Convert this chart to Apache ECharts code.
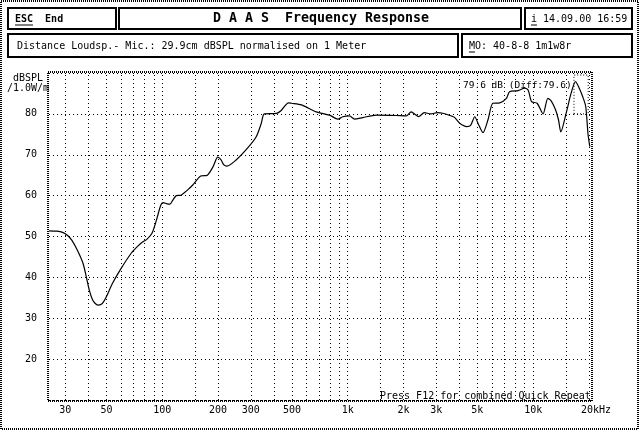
<!DOCTYPE html>
<html>
<head>
<meta charset="utf-8">
<script src="https://cdn.jsdelivr.net/npm/echarts@6/dist/echarts.min.js"></script>
<style>
html,body{margin:0;padding:0;background:#fff;}
#c{width:640px;height:431px;}
</style>
</head>
<body>
<div id="c"></div>
<script>
// Frequency response curve (Hz, dBSPL)
const freqs = [24.5, 27, 29, 31, 32.5, 34.8, 37.4, 38.9, 40.4, 42, 43.5, 45, 46.9, 48.5, 50, 54, 60, 68, 74, 78, 82.5, 88, 93, 98, 101, 106, 110, 114, 119, 126, 137, 146, 161, 175, 188, 199, 207, 215, 223, 250, 288, 321, 342, 355, 412, 439, 479, 497, 563, 676, 797, 885, 940, 1021, 1088, 1206, 1425, 1827, 2068, 2197, 2335, 2413, 2586, 2806, 3045, 3300, 3513, 3750, 4017, 4380, 4600, 4845, 5050, 5360, 5700, 6060, 6600, 7170, 7460, 8300, 9000, 9400, 9800, 10500, 11300, 12000, 12500, 13200, 13700, 14085, 15120, 16000, 16900, 17600, 18500, 19200, 19760, 20200];
const levels = [51.4, 51.3, 51.0, 50.2, 49.1, 46.7, 43.4, 40.2, 36.9, 34.6, 33.6, 33.2, 33.4, 34.2, 35.3, 38.6, 42.2, 45.9, 47.7, 48.6, 49.3, 50.8, 54.0, 57.6, 58.3, 58.0, 57.9, 58.9, 60.0, 60.1, 61.4, 62.6, 64.8, 65.0, 67.1, 69.4, 68.8, 67.5, 67.2, 68.7, 71.6, 74.4, 77.7, 80.0, 80.1, 80.9, 82.7, 82.6, 82.2, 80.5, 79.7, 78.7, 79.3, 79.5, 78.7, 79.1, 79.7, 79.6, 79.5, 80.5, 79.7, 79.3, 80.3, 80.0, 80.3, 80.1, 79.7, 79.2, 77.7, 76.9, 77.2, 79.3, 77.6, 75.4, 78.5, 82.6, 82.7, 83.8, 85.4, 85.7, 86.3, 85.8, 83.0, 82.6, 80.0, 83.8, 83.2, 81.0, 78.5, 75.6, 80.5, 85.0, 87.9, 86.6, 84.2, 81.8, 75.0, 72.0];

// Vertical grid frequencies
const gridFreqs = [30, 40, 50, 60, 70, 80, 90, 100, 150, 200, 300, 400, 500, 600, 700, 800, 900, 1000, 1500, 2000, 3000, 4000, 5000, 6000, 7000, 8000, 9000, 10000, 15000, 20000];
// Frequency tick labels
const labelFreqs = [30, 50, 100, 200, 300, 500, 1000, 2000, 3000, 5000, 10000, 20000];
const labelTexts = ['30', '50', '100', '200', '300', '500', '1k', '2k', '3k', '5k', '10k', '20kHz'];
// Level tick labels
const levelTicks = [20, 30, 40, 50, 60, 70, 80];

const MONO = '"DejaVu Sans Mono", "Liberation Mono", monospace';
const chart = echarts.init(document.getElementById('c'), null, {renderer: 'canvas'});

const gridLeft = 49, gridTop = 73, gridRight = 49, gridBottom = 31;

const markLineData = gridFreqs.map(f => {
  const idx = labelFreqs.indexOf(f);
  const d = {xAxis: f};
  if (idx >= 0) {
    d.label = {show: true, position: 'start', formatter: labelTexts[idx], distance: 5,
      color: '#000', fontFamily: MONO, fontSize: 10,
      offset: f === 20000 ? [7, 0] : [0, 0]};
  } else {
    d.label = {show: false};
  }
  return d;
});

function box(x, y, w, h) {
  return {type: 'rect', shape: {x: x, y: y, width: w, height: h}, silent: true,
    style: {fill: 'none', stroke: '#000', lineWidth: 2}};
}
function txt(x, y, t, opts) {
  return Object.assign({type: 'text', x: x, y: y, silent: true,
    style: Object.assign({text: t, fill: '#000', font: '10px ' + MONO, textVerticalAlign: 'middle'}, opts || {})});
}

const option = {
  animation: false,
  backgroundColor: '#fff',
  grid: {left: gridLeft, top: gridTop, right: gridRight, bottom: gridBottom, containLabel: false},
  xAxis: {
    type: 'log', logBase: 10, min: 24.5, max: 20500,
    axisLine: {show: false}, axisTick: {show: false}, axisLabel: {show: false},
    splitLine: {show: false}, minorSplitLine: {show: false}
  },
  yAxis: {
    type: 'value', min: 10, max: 90, interval: 10,
    axisLine: {show: false}, axisTick: {show: false},
    axisLabel: {
      margin: 12, color: '#000', fontFamily: MONO, fontSize: 10,
      formatter: v => (levelTicks.indexOf(v) >= 0 ? String(v) : '')
    },
    splitLine: {show: true, lineStyle: {color: '#000', width: 1, type: [1, 3]}}
  },
  series: [{
    type: 'line',
    data: freqs.map((f, i) => [f, levels[i]]),
    symbol: 'none',
    smooth: 0.25,
    lineStyle: {color: '#000', width: 1.2},
    silent: true,
    markLine: {
      silent: true, symbol: ['none', 'none'], animation: false,
      lineStyle: {color: '#000', width: 1, type: [1, 3]},
      emphasis: {disabled: true},
      data: markLineData
    },
    markArea: {
      silent: true,
      itemStyle: {color: 'rgba(0,0,0,0)', borderColor: '#000', borderWidth: 1, borderType: [1, 2]},
      data: [[{coord: [16600, 80]}, {coord: [19800, 89.5]}]]
    }
  }],
  graphic: [
    // outer hatched frame
    {type: 'rect', shape: {x: 1, y: 1, width: 637, height: 428}, silent: true,
      style: {fill: 'none', stroke: '#000', lineWidth: 2, lineDash: [1, 1]}},
    // plot frame
    {type: 'rect', shape: {x: gridLeft - 1, y: gridTop - 1, width: 640 - gridLeft - gridRight + 2, height: 431 - gridTop - gridBottom + 2}, silent: true,
      style: {fill: 'none', stroke: '#000', lineWidth: 2, lineDash: [1, 1]}},
    // header boxes
    box(8, 8, 108, 21), box(119, 8, 402, 21), box(525, 8, 107, 21),
    box(8, 34, 450, 23), box(462, 34, 170, 23),
    txt(15, 19, 'ESC  End', {font: 'bold 10px ' + MONO}),
    {type: 'line', shape: {x1: 15, y1: 25, x2: 33, y2: 25}, style: {stroke: '#000', lineWidth: 1}, silent: true},
    txt(321, 19, 'D A A S  Frequency Response', {font: 'bold 13.3px ' + MONO, textAlign: 'center'}),
    txt(531, 19, 'i 14.09.00 16:59'),
    {type: 'line', shape: {x1: 531, y1: 25, x2: 537, y2: 25}, style: {stroke: '#000', lineWidth: 1}, silent: true},
    txt(17, 46, 'Distance Loudsp.- Mic.: 29.9cm dBSPL normalised on 1 Meter'),
    txt(469, 46, 'MO: 40-8-8 1m1w8r'),
    {type: 'line', shape: {x1: 469, y1: 52, x2: 475, y2: 52}, style: {stroke: '#000', lineWidth: 1}, silent: true},
    // axis unit
    txt(13, 78, 'dBSPL'),
    txt(7, 88, '/1.0W/m'),
    // annotations in plot
    txt(463, 86, '79.6 dB (Diff:79.6)', {font: '9.5px ' + MONO}),
    txt(380, 396, 'Press F12 for combined Quick Repeat')
  ]
};
chart.setOption(option);
</script>
</body>
</html>
